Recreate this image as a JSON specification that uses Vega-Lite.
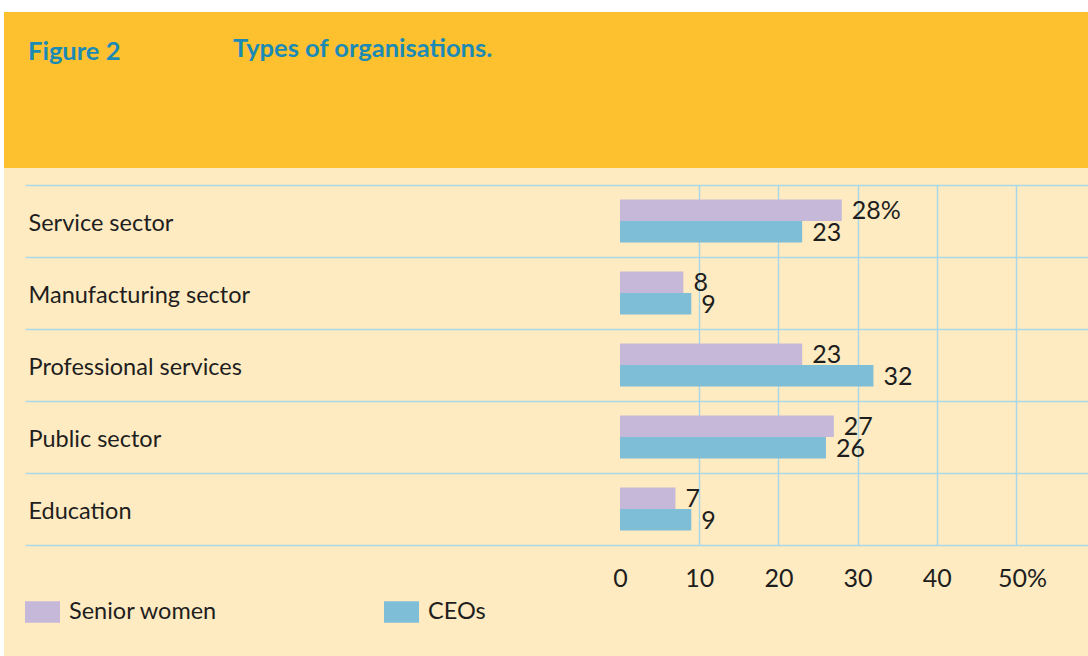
{
  "$schema": "https://vega.github.io/schema/vega-lite/v6.json",
  "autosize": {"type": "pad"},
  "padding": {"left": 4, "top": 12, "right": 0, "bottom": 0},
  "background": "#FFFFFF",
  "bounds": "flush",
  "spacing": 0,
  "config": {"font": "Lato", "view": {"stroke": null}},
  "title": {"text": "Types of organisations.", "anchor": "start", "frame": "group", "orient": "top", "offset": -70, "dx": 229, "baseline": "alphabetic", "font": "Lato", "fontSize": 25.5, "fontWeight": "bold", "color": "#1B8AB5"},
  "vconcat": [
    {
      "width": 1084,
      "height": 156,
      "view": {"fill": "#FDC12F", "stroke": null},
      "title": {"text": "Figure 2", "anchor": "start", "frame": "group", "orient": "top", "offset": -73.5, "dx": 24, "baseline": "alphabetic", "font": "Lato", "fontSize": 25.5, "fontWeight": "bold", "color": "#1B8AB5"},
      "data": {"values": [{"band": "header"}]},
      "mark": {"type": "rect", "color": "#FDC12F"},
      "encoding": {}
    },
    {
      "width": 1084,
      "height": 488,
      "view": {"fill": "#FFEBC1", "stroke": null},
      "data": {
        "values": [
          {"type": "Service sector", "group": "Senior women", "value": 28, "label": "28%"},
          {"type": "Service sector", "group": "CEOs", "value": 23, "label": "23"},
          {"type": "Manufacturing sector", "group": "Senior women", "value": 8, "label": "8"},
          {"type": "Manufacturing sector", "group": "CEOs", "value": 9, "label": "9"},
          {"type": "Professional services", "group": "Senior women", "value": 23, "label": "23"},
          {"type": "Professional services", "group": "CEOs", "value": 32, "label": "32"},
          {"type": "Public sector", "group": "Senior women", "value": 27, "label": "27"},
          {"type": "Public sector", "group": "CEOs", "value": 26, "label": "26"},
          {"type": "Education", "group": "Senior women", "value": 7, "label": "7"},
          {"type": "Education", "group": "CEOs", "value": 9, "label": "9"}
        ]
      },
      "encoding": {
        "y": {
          "field": "type",
          "type": "nominal",
          "sort": ["Service sector", "Manufacturing sector", "Professional services", "Public sector", "Education"],
          "scale": {"range": [17, 377], "paddingInner": 0, "paddingOuter": 0},
          "axis": {
            "orient": "left",
            "title": null,
            "domain": false,
            "ticks": false,
            "grid": true,
            "tickBand": "extent",
            "gridColor": "#A9D6E8",
            "gridWidth": 1.5,
            "gridOpacity": 1,
            "labelAlign": "left",
            "labelPadding": -24,
            "labelOffset": 2,
            "labelFont": "Lato",
            "labelFontSize": 23.5,
            "labelColor": "#1E1E1E",
            "labelLimit": 400,
            "labelBaseline": "middle"
          }
        },
        "yOffset": {
          "field": "group",
          "type": "nominal",
          "sort": ["Senior women", "CEOs"],
          "scale": {"paddingInner": 0, "paddingOuter": 0.674}
        },
        "x": {
          "field": "value",
          "type": "quantitative",
          "stack": null,
          "scale": {"domain": [-75.13, 59.09], "range": [21, 1084], "nice": false},
          "axis": {
            "orient": "top",
            "values": [0, 10, 20, 30, 40, 50],
            "title": null,
            "domain": false,
            "ticks": false,
            "grid": true,
            "gridColor": "#A9D6E8",
            "gridWidth": 1.5,
            "gridOpacity": {"condition": {"test": "datum.value === 0", "value": 0}, "value": 1},
            "labelExpr": "datum.value === 50 ? '50%' : datum.label",
            "labelFont": "Lato",
            "labelFontSize": 25,
            "labelPadding": -410,
            "labelBaseline": "middle",
            "labelFlush": false,
            "labelOffset": {"condition": {"test": "datum.value === 50", "value": 6}, "value": 0},
            "labelColor": "#1E1E1E"
          }
        }
      },
      "layer": [
        {
          "mark": {"type": "bar"},
          "encoding": {
            "color": {
              "field": "group",
              "type": "nominal",
              "sort": ["Senior women", "CEOs"],
              "scale": {"domain": ["Senior women", "CEOs"], "range": ["#C5B8D9", "#7FBED7"]},
              "legend": {
                "orient": "none",
                "legendX": 21,
                "legendY": 582.5,
                "direction": "horizontal",
                "columns": 2,
                "title": null,
                "symbolType": "M-1,-0.62H1V0.62H-1Z",
                "symbolSize": 1225,
                "symbolStrokeWidth": 0,
                "symbolOpacity": 1,
                "labelFont": "Lato",
                "labelFontSize": 23.5,
                "labelColor": "#1E1E1E",
                "labelOffset": 9,
                "labelExpr": "datum.label === 'CEOs' ? '\u2002CEOs' : datum.label",
                "columnPadding": 166,
                "labelLimit": 300,
                "padding": 0
              }
            }
          }
        },
        {
          "mark": {"type": "text", "align": "left", "baseline": "middle", "dx": 10, "dy": 1, "font": "Lato", "fontSize": 25, "color": "#1E1E1E"},
          "encoding": {"text": {"field": "label", "type": "nominal"}}
        }
      ]
    }
  ]
}
